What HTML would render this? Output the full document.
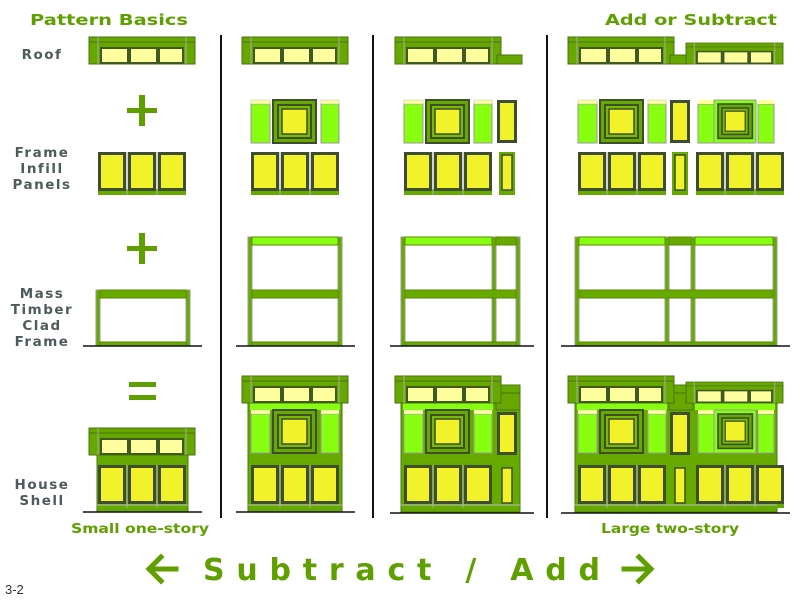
<!DOCTYPE html>
<html><head><meta charset="utf-8"><style>
html,body{margin:0;padding:0;background:#fff;}
svg{display:block;}
.lb{font-family:"DejaVu Sans","Liberation Sans",sans-serif;font-weight:bold;font-size:13.5px;fill:#4d5b5b;letter-spacing:1.5px;}
.gt{font-family:"DejaVu Sans","Liberation Sans",sans-serif;font-weight:bold;fill:#5fa000;}
</style></head><body>
<svg width="800" height="600" viewBox="0 0 800 600" xmlns="http://www.w3.org/2000/svg">
<defs>
<g id="roof">
 <rect x="0" y="0" width="106" height="27" fill="#67a800" stroke="#4b7010"/>
 <line x1="0" y1="5" x2="106" y2="5" stroke="#4b7010"/>
 <line x1="9" y1="0" x2="9" y2="27" stroke="#aaa"/>
 <line x1="97" y1="0" x2="97" y2="27" stroke="#aaa"/>
 <rect x="11" y="10" width="84" height="17" fill="#3f5a20"/>
 <rect x="13" y="12" width="25" height="13" fill="#ffffa0"/>
 <rect x="42" y="12" width="25" height="13" fill="#ffffa0"/>
 <rect x="71" y="12" width="22" height="13" fill="#ffffa0"/>
</g>
<g id="sq">
 <rect x="0" y="0" width="43" height="43" fill="#66aa00" stroke="#3d4d2d" stroke-width="2"/>
 <rect x="5" y="5" width="33" height="33" fill="#77bb00" stroke="#3d4d2d" stroke-width="2"/>
 <rect x="9" y="9" width="25" height="25" fill="#f2f22a" stroke="#3d4d2d" stroke-width="1.5"/>
</g>
<g id="up">
 <rect x="0" y="4" width="19" height="39" fill="#88ff11" stroke="#999"/>
 <rect x="0" y="0" width="19" height="4" fill="#ffffa0" stroke="#bbb" stroke-width=".5"/>
 <use href="#sq" x="22" y="0"/>
 <rect x="70" y="4" width="18" height="39" fill="#88ff11" stroke="#999"/>
 <rect x="70" y="0" width="18" height="4" fill="#ffffa0" stroke="#bbb" stroke-width=".5"/>
</g>
<g id="low">
 <rect x="0" y="37" width="88" height="6" fill="#66aa00"/>
 <rect x="1.5" y="1.5" width="25" height="36" fill="#f2f22a" stroke="#3d4d2d" stroke-width="3"/>
 <rect x="31.5" y="1.5" width="25" height="36" fill="#f2f22a" stroke="#3d4d2d" stroke-width="3"/>
 <rect x="61.5" y="1.5" width="25" height="36" fill="#f2f22a" stroke="#3d4d2d" stroke-width="3"/>
 <line x1="29" y1="0" x2="29" y2="43" stroke="#aaa"/>
 <line x1="59" y1="0" x2="59" y2="43" stroke="#aaa"/>
</g>
<g id="tall"><rect x="1.5" y="1.5" width="17" height="40" fill="#f2f22a" stroke="#3d4d2d" stroke-width="3"/></g>
<g id="narrow"><rect x="0" y="0" width="16" height="43" fill="#66aa00"/><rect x="3" y="3" width="10" height="35" fill="#f2f22a" stroke="#3d4d2d" stroke-width="1.5"/></g>
</defs>

<text class="gt" x="30" y="25" font-size="15" textLength="158" lengthAdjust="spacingAndGlyphs">Pattern Basics</text>
<text class="gt" x="605" y="25" font-size="15" textLength="172" lengthAdjust="spacingAndGlyphs">Add or Subtract</text>

<g class="lb" text-anchor="middle">
<text x="42" y="59">Roof</text>
<text x="42" y="157">Frame</text><text x="42" y="173">Infill</text><text x="42" y="189">Panels</text>
<text x="42" y="298">Mass</text><text x="42" y="314">Timber</text><text x="42" y="330">Clad</text><text x="42" y="346">Frame</text>
<text x="42" y="489">House</text><text x="42" y="505">Shell</text>
</g>

<g fill="#5fa000">
<rect x="127" y="108" width="30" height="5"/><rect x="139" y="95" width="6" height="31"/>
<rect x="127" y="246" width="30" height="5"/><rect x="139" y="233" width="6" height="31"/>
<rect x="129" y="382" width="27" height="5"/><rect x="129" y="395" width="27" height="5"/>
</g>

<g stroke="#111" stroke-width="2">
<line x1="221" y1="35" x2="221" y2="518"/><line x1="373" y1="35" x2="373" y2="518"/><line x1="547" y1="35" x2="547" y2="518"/>
</g>

<use href="#roof" x="89" y="37"/>
<use href="#roof" x="242" y="37"/>
<use href="#roof" x="395" y="37"/>
<rect x="497" y="55" width="25" height="9" fill="#67a800" stroke="#4b7010"/>
<use href="#roof" x="568" y="37"/>
<rect x="670" y="55" width="22" height="9" fill="#67a800" stroke="#4b7010"/>
<g transform="translate(686,43) scale(0.915,0.78)"><use href="#roof"/></g>

<use href="#up" x="251" y="100"/>
<use href="#up" x="404" y="100"/><use href="#tall" x="497" y="100"/>
<use href="#up" x="578" y="100"/><use href="#tall" x="670" y="100"/>
<g>
 <rect x="698" y="104" width="16" height="39" fill="#88ff11" stroke="#999"/><rect x="698" y="100" width="16" height="4" fill="#ffffa0"/>
 <rect x="714" y="100" width="42" height="43" fill="#88ff11" stroke="#999"/>
 <g transform="translate(718,104) scale(0.8)"><use href="#sq"/></g>
 <rect x="758" y="104" width="16" height="39" fill="#88ff11" stroke="#999"/><rect x="758" y="100" width="16" height="4" fill="#ffffa0"/>
</g>
<use href="#low" x="98" y="152"/>
<use href="#low" x="251" y="152"/>
<use href="#low" x="404" y="152"/><use href="#narrow" x="499" y="152"/>
<use href="#low" x="578" y="152"/><use href="#narrow" x="672" y="152"/><use href="#low" x="696" y="152"/>

<g stroke="#5a8a00" stroke-width="1">
 <rect x="96" y="290" width="4" height="56" fill="#66aa00" stroke="#999"/><rect x="186" y="290" width="4" height="56" fill="#66aa00" stroke="#999"/>
 <rect x="100" y="290" width="86" height="8" fill="#66aa00"/><rect x="100" y="342" width="86" height="4" fill="#66aa00"/>
 <rect x="248" y="237" width="4" height="109" fill="#66aa00" stroke="#999"/><rect x="338" y="237" width="4" height="109" fill="#66aa00" stroke="#999"/>
 <rect x="252" y="237" width="86" height="8" fill="#88ff11"/><rect x="252" y="290" width="86" height="8" fill="#66aa00"/><rect x="252" y="342" width="86" height="4" fill="#66aa00"/>
 <rect x="401" y="237" width="4" height="109" fill="#66aa00" stroke="#999"/><rect x="492" y="237" width="4" height="109" fill="#66aa00" stroke="#999"/><rect x="516" y="237" width="4" height="109" fill="#66aa00" stroke="#999"/>
 <rect x="405" y="237" width="87" height="8" fill="#88ff11"/><rect x="496" y="237" width="20" height="8" fill="#66aa00"/>
 <rect x="405" y="290" width="111" height="8" fill="#66aa00"/><rect x="405" y="342" width="111" height="4" fill="#66aa00"/>
 <rect x="575" y="237" width="4" height="109" fill="#66aa00" stroke="#999"/><rect x="665" y="237" width="4" height="109" fill="#66aa00" stroke="#999"/><rect x="691" y="237" width="4" height="109" fill="#66aa00" stroke="#999"/><rect x="773" y="237" width="4" height="109" fill="#66aa00" stroke="#999"/>
 <rect x="579" y="237" width="86" height="8" fill="#88ff11"/><rect x="669" y="237" width="22" height="8" fill="#66aa00"/><rect x="695" y="237" width="78" height="8" fill="#88ff11"/>
 <rect x="579" y="290" width="194" height="8" fill="#66aa00"/><rect x="579" y="342" width="194" height="4" fill="#66aa00"/>
</g>
<g stroke="#111" stroke-width="1.5">
 <line x1="83" y1="346" x2="202" y2="346"/><line x1="236" y1="346" x2="355" y2="346"/>
 <line x1="390" y1="346" x2="534" y2="346"/><line x1="561" y1="346" x2="790" y2="346"/>
</g>

<rect x="97" y="441" width="91" height="71" fill="#66aa00" stroke="#4a7a10"/>
<use href="#roof" x="89" y="428"/>
<use href="#low" x="98" y="465"/>
<line x1="97" y1="505" x2="188" y2="505" stroke="#bbb"/>
<rect x="248" y="385" width="94" height="127" fill="#66aa00" stroke="#4a7a10"/>
<rect x="250" y="402" width="90" height="8" fill="#88ff11"/>
<use href="#roof" x="242" y="376"/>
<use href="#up" x="251" y="410"/>
<use href="#low" x="251" y="465"/>
<line x1="248" y1="505" x2="342" y2="505" stroke="#bbb"/>
<rect x="401" y="385" width="119" height="127" fill="#66aa00" stroke="#4a7a10"/>
<rect x="403" y="402" width="90" height="8" fill="#88ff11"/>
<rect x="496" y="393" width="24" height="17" fill="#67a800" stroke="#4b7010"/>
<use href="#roof" x="395" y="376"/>
<use href="#up" x="404" y="410"/><use href="#tall" x="497" y="412"/>
<use href="#low" x="404" y="465"/><use href="#narrow" x="499" y="465"/>
<line x1="401" y1="505" x2="520" y2="505" stroke="#bbb"/>
<rect x="575" y="385" width="202" height="127" fill="#66aa00" stroke="#4a7a10"/>
<rect x="577" y="402" width="90" height="8" fill="#88ff11"/>
<rect x="695" y="402" width="80" height="8" fill="#88ff11"/>
<rect x="669" y="393" width="24" height="17" fill="#67a800" stroke="#4b7010"/>
<use href="#roof" x="568" y="376"/>
<g transform="translate(686,382) scale(0.915,0.78)"><use href="#roof"/></g>
<use href="#up" x="578" y="410"/><use href="#tall" x="670" y="412"/>
<rect x="698" y="414" width="16" height="39" fill="#88ff11" stroke="#999"/><rect x="698" y="410" width="16" height="4" fill="#ffffa0"/>
<rect x="714" y="410" width="42" height="43" fill="#88ff11" stroke="#999"/>
<g transform="translate(718,414) scale(0.8)"><use href="#sq"/></g>
<rect x="758" y="414" width="16" height="39" fill="#88ff11" stroke="#999"/><rect x="758" y="410" width="16" height="4" fill="#ffffa0"/>
<use href="#low" x="578" y="465"/><use href="#narrow" x="672" y="465"/><use href="#low" x="696" y="465"/>
<line x1="575" y1="505" x2="777" y2="505" stroke="#bbb"/>
<g stroke="#111" stroke-width="1.5">
 <line x1="83" y1="512" x2="202" y2="512"/><line x1="236" y1="512" x2="355" y2="512"/>
 <line x1="390" y1="513" x2="534" y2="513"/><line x1="561" y1="513" x2="790" y2="513"/>
</g>

<text class="gt" x="140" y="533" font-size="13" text-anchor="middle" textLength="138" lengthAdjust="spacingAndGlyphs">Small one-story</text>
<text class="gt" x="670" y="533" font-size="13" text-anchor="middle" textLength="138" lengthAdjust="spacingAndGlyphs">Large two-story</text>

<g stroke="#5fa000" stroke-width="5" fill="none" stroke-linecap="square">
 <line x1="150" y1="569" x2="176" y2="569"/><polyline points="161,557 149,569 161,581"/>
 <line x1="624" y1="569" x2="650" y2="569"/><polyline points="639,557 651,569 639,581"/>
</g>
<text class="gt" x="203" y="580" font-size="30" textLength="397" lengthAdjust="spacing">Subtract / Add</text>

<text x="5" y="594" font-family="Liberation Sans, sans-serif" font-size="13" fill="#333">3-2</text>
</svg>
</body></html>
